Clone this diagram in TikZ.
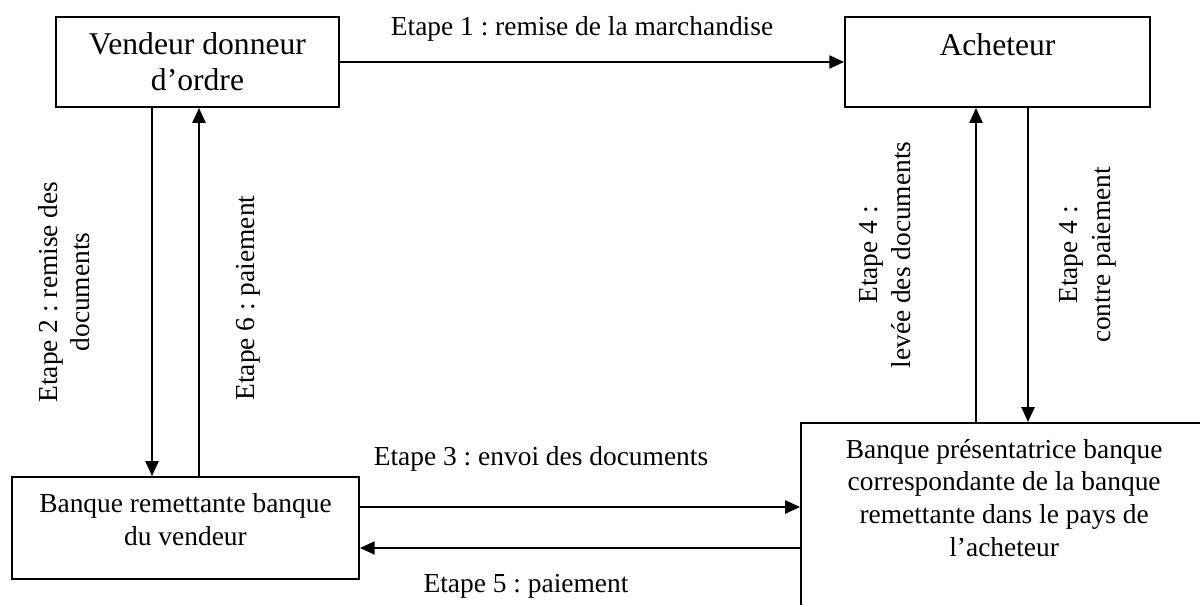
\documentclass[tikz,border=0pt]{standalone}
\usepackage{fontspec}
\setmainfont{Liberation Serif}
\usetikzlibrary{arrows.meta}
\frenchspacing

\tikzset{
    box/.style={draw, line width=0.95pt, align=center, inner sep=0pt},
    flow/.style={-{Triangle[length=7pt, width=6.2pt]}, line width=0.95pt},
    steplabel/.style={align=center, font=\fontsize{13}{15.5}\selectfont},
}

\begin{document}
\begin{tikzpicture}[x=0.0166667cm, y=-0.0166667cm]

\useasboundingbox (0,0) rectangle (1200,605);

% Boxes
\node[box, minimum width=4.72cm, minimum height=1.5cm, font=\fontsize{15}{17}\selectfont] (vendeur) at (197.5,62) {Vendeur donneur\\d'ordre};
\node[box, minimum width=5.08cm, minimum height=1.5cm, text depth=17pt, font=\fontsize{15}{17}\selectfont] (acheteur) at (997.5,62) {Acheteur};
\node[box, minimum width=5.78cm, minimum height=1.7cm, text depth=8pt, font=\fontsize{13}{15.5}\selectfont] (remettante) at (185.5,528) {Banque remettante banque\\du vendeur};
\node[box, anchor=north west, minimum width=6.77cm, inner ysep=7.6pt, text depth=100pt, font=\fontsize{13}{15.5}\selectfont] (presentatrice) at (800,422) {Banque présentatrice banque\\correspondante de la banque\\remettante dans le pays de\\l'acheteur};

% Connections
\draw[flow] (vendeur.east) -- (acheteur.west);
\draw[flow] (vendeur.south -| 152,0) -- (remettante.north -| 152,0);
\draw[flow] (remettante.north -| 199,0) -- (vendeur.south -| 199,0);
\draw[flow] (remettante.east |- 0,507) -- (presentatrice.west |- 0,507);
\draw[flow] (presentatrice.west |- 0,548) -- (remettante.east |- 0,548);
\draw[flow] (presentatrice.north -| 976,0) -- (acheteur.south -| 976,0);
\draw[flow] (acheteur.south -| 1028,0) -- (presentatrice.north -| 1028,0);

% Labels
\node[steplabel] (etape1) at (582,29) {Etape 1 : remise de la marchandise};
\node[steplabel, rotate=90] (etape2) at (64,292) {Etape 2 : remise des\\documents};
\node[steplabel] (etape3) at (541,459) {Etape 3 : envoi des documents};
\node[steplabel, rotate=90] (etape4a) at (885,255) {Etape 4 :\\levée des documents};
\node[steplabel, rotate=90] (etape4b) at (1088,255) {Etape 4 :\\contre paiement};
\node[steplabel] (etape5) at (526,586) {Etape 5 : paiement};
\node[steplabel, rotate=90] (etape6) at (248,298) {Etape 6 : paiement};

\end{tikzpicture}
\end{document}
